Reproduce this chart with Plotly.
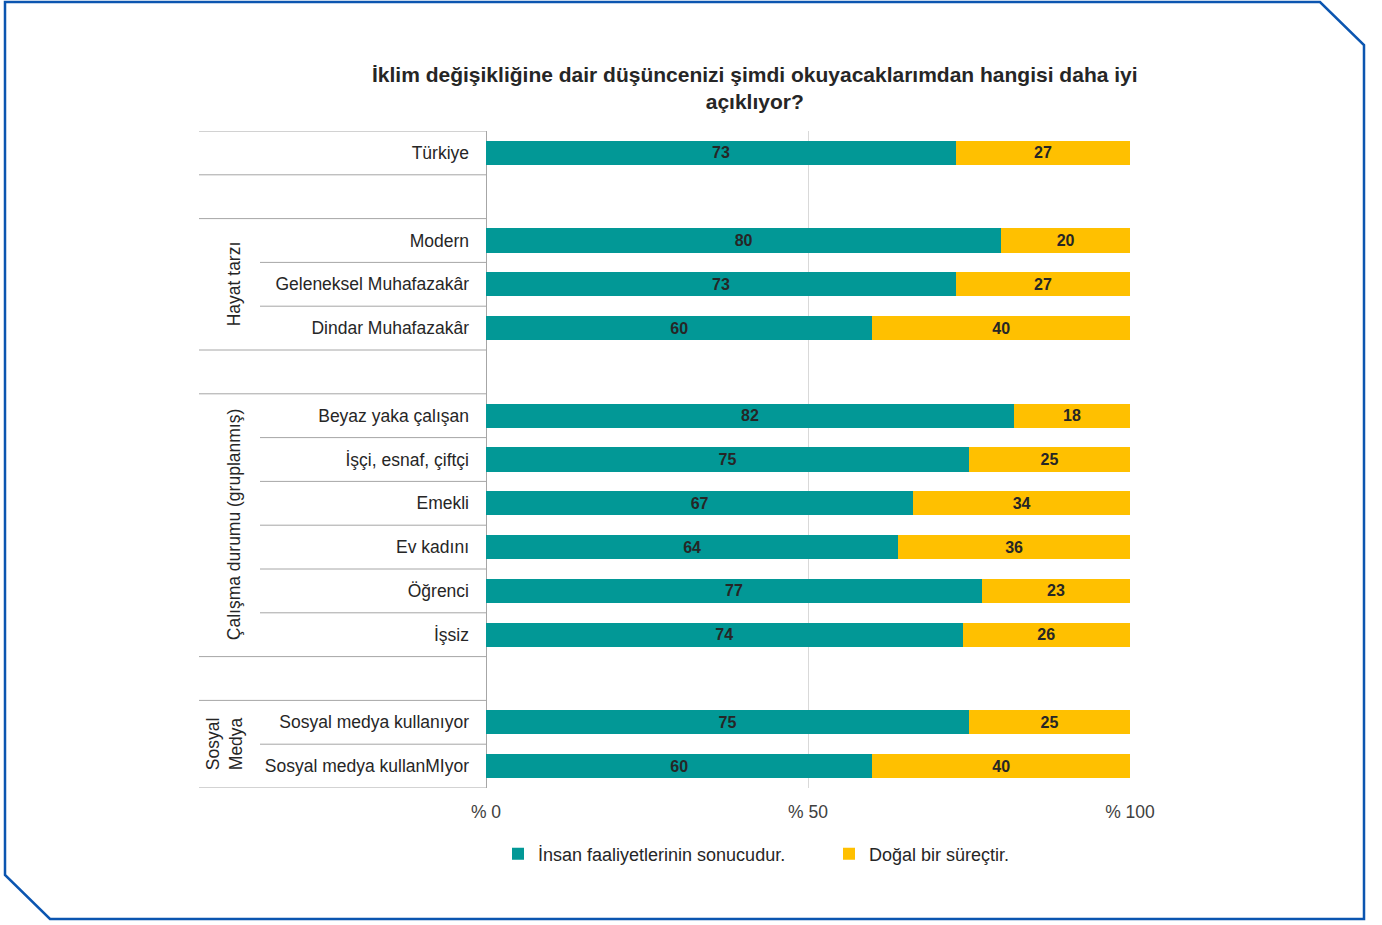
import plotly.graph_objects as go

# ---- data ----
rows = ["Türkiye", None, "Modern", "Geleneksel Muhafazakâr", "Dindar Muhafazakâr", None,
        "Beyaz yaka çalışan", "İşçi, esnaf, çiftçi", "Emekli", "Ev kadını", "Öğrenci", "İşsiz",
        None, "Sosyal medya kullanıyor", "Sosyal medya kullanMIyor"]
insan = [73, None, 80, 73, 60, None, 82, 75, 67, 64, 77, 74, None, 75, 60]
dogal = [27, None, 20, 27, 40, None, 18, 25, 34, 36, 23, 26, None, 25, 40]
series_names = ["İnsan faaliyetlerinin sonucudur.", "Doğal bir süreçtir."]
colors = ["#029896", "#FFC000"]
groups = [("Hayat tarzı", 2, 4), ("Çalışma durumu (gruplanmış)", 6, 11), ("Sosyal<br>Medya", 13, 14)]
x_ticks = [0, 50, 100]
x_ticklabels = ["% 0", "% 50", "% 100"]
title = "İklim değişikliğine dair düşüncenizi şimdi okuyacaklarımdan hangisi daha iyi<br>açıklıyor?"

W, H = 1382, 925
def px(x): return x / W
def py(y): return 1 - y / H

FONT = "Liberation Sans, Arial, sans-serif"
ypos = list(range(len(rows)))
fig = go.Figure()
for name, vals, col in zip(series_names, [insan, dogal], colors):
    fig.add_trace(go.Bar(
        y=ypos, x=vals, orientation="h", name=name, marker=dict(color=col, line=dict(width=0)),
        width=0.55, text=[("" if v is None else str(v)) for v in vals],
        textposition="inside", insidetextanchor="middle",
        textfont=dict(family=FONT, size=16, color="#262626", weight="bold"),
        hoverinfo="skip",
    ))

shapes = []
full_lines = [-0.5, 0.5, 1.5, 4.5, 5.5, 11.5, 12.5, 14.5]
sub_lines = [2.5, 3.5, 6.5, 7.5, 8.5, 9.5, 10.5, 13.5]
for b in full_lines:
    shapes.append(dict(type="line", xref="paper", yref="y", x0=px(199), x1=px(486), y0=b, y1=b,
                       line=dict(color="#a6a6a6", width=1)))
for b in sub_lines:
    shapes.append(dict(type="line", xref="paper", yref="y", x0=px(260), x1=px(486), y0=b, y1=b,
                       line=dict(color="#a6a6a6", width=1)))
# frame
pts = [(5, 2), (1320, 2), (1364, 45), (1364, 919), (50, 919), (5, 875)]
path = "M " + " L ".join(f"{px(x)},{py(y)}" for x, y in pts) + " Z"
shapes.append(dict(type="path", xref="paper", yref="paper", path=path,
                   line=dict(color="#0B55B0", width=2.5), fillcolor="rgba(0,0,0,0)"))

annotations = [dict(text=title, xref="paper", yref="paper", x=px(755), y=py(88), showarrow=False,
                    xanchor="center", yanchor="middle",
                    font=dict(family=FONT, size=21, color="#262626", weight="bold"))]
for g, a, b in groups:
    annotations.append(dict(text=g, xref="paper", yref="y", x=px(234) if "<br>" not in g else px(224),
                            y=(a + b) / 2, textangle=-90, showarrow=False, xanchor="center", yanchor="middle",
                            font=dict(family=FONT, size=17.5, color="#262626")))

fig.update_layout(
    template="none",
    width=W, height=H, autosize=False, margin=dict(l=0, r=0, t=0, b=0, autoexpand=False),
    paper_bgcolor="white", plot_bgcolor="white", barmode="stack", barnorm="percent",
    showlegend=True,
    legend=dict(orientation="h", x=px(498), y=py(854), xanchor="left", yanchor="middle",
                traceorder="normal", entrywidth=286, entrywidthmode="pixels",
                font=dict(family=FONT, size=18, color="#262626"),
                itemwidth=30, bgcolor="rgba(0,0,0,0)"),
    xaxis=dict(domain=[px(486), px(1130)], range=[0, 100], tickvals=x_ticks, ticktext=x_ticklabels,
               showgrid=True, gridcolor="#d9d9d9", gridwidth=1, zeroline=True, zerolinecolor="#a6a6a6",
               zerolinewidth=1, showline=False, ticks="", ticklabelstandoff=11, automargin=False,
               tickfont=dict(family=FONT, size=17.5, color="#404040")),
    yaxis=dict(domain=[py(788), py(131)], range=[14.5, -0.5], tickvals=[i for i, r in enumerate(rows) if r],
               ticktext=[r for r in rows if r], showgrid=False, zeroline=False, showline=False, ticks="",
               ticklabelstandoff=16, automargin=False,
               tickfont=dict(family=FONT, size=17.5, color="#262626")),
    shapes=shapes, annotations=annotations,
)

fig.write_html("out.html", config={"displayModeBar": False},
               post_script="document.body.style.margin='0';")
